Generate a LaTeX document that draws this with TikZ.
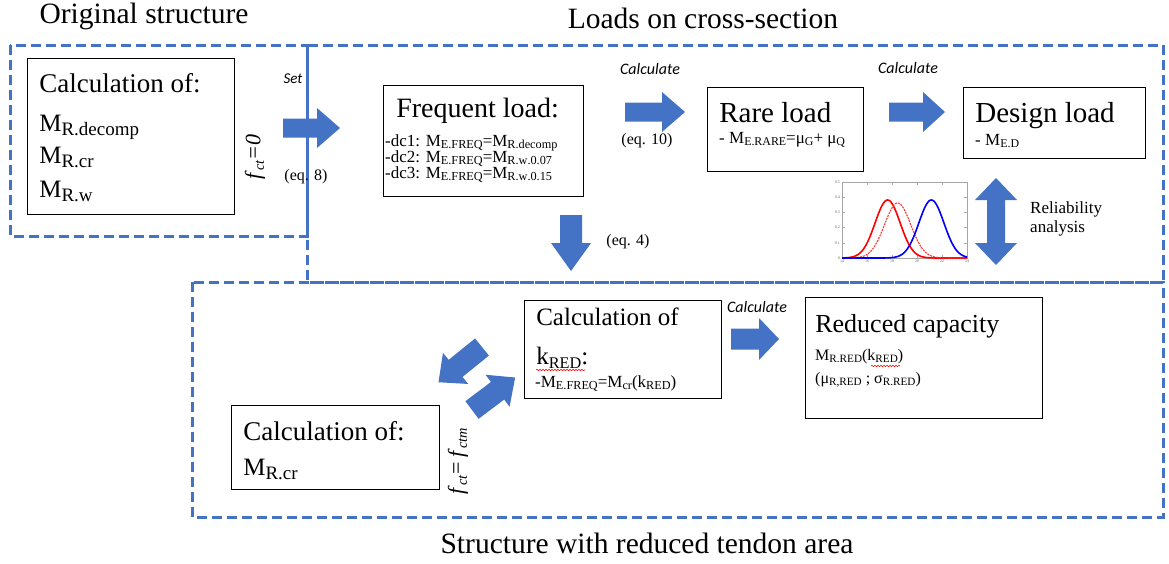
\documentclass[tikz,border=0pt]{standalone}
\usepackage{fontspec}
\setmainfont{Liberation Serif}[Kerning=Off]
\newfontfamily\tnr{Liberation Serif}[Kerning=Off]
\newfontfamily\tnrb{Liberation Serif}[Kerning=Off, Ligatures=NoCommon]
\newfontfamily\califont{Carlito}
\usetikzlibrary{decorations.pathmorphing}
\definecolor{dblue}{HTML}{4472C4}
\definecolor{ablue}{HTML}{4472C4}
\newcommand\lo[2][0.65]{\raisebox{-0.35ex}{\scalebox{#1}{#2}}}
% single block arrow: name, tail, angle, length, shaft half, head half, head length
\newcommand\barr[7]{\begin{scope}[shift={#2},rotate=#3]
\fill[ablue] (0,-#5) -- (#4-#7,-#5) -- (#4-#7,-#6) -- (#4,0) -- (#4-#7,#6) -- (#4-#7,#5) -- (0,#5) -- cycle;
\coordinate (#1) at (#4/2,0);
\end{scope}}
% double block arrow: name, centre, angle, length, shaft half, head half, head length
\newcommand\dbarr[7]{\begin{scope}[shift={#2},rotate=#3]
\fill[ablue] (-#4/2,0) -- (-#4/2+#7,#6) -- (-#4/2+#7,#5) -- (#4/2-#7,#5) -- (#4/2-#7,#6) -- (#4/2,0) -- (#4/2-#7,-#6) -- (#4/2-#7,-#5) -- (-#4/2+#7,-#5) -- (-#4/2+#7,-#6) -- cycle;
\coordinate (#1) at (0,0);
\end{scope}}
\begin{document}
\begin{tikzpicture}[x=1pt,y=-1pt,
  region/.style={draw=dblue, line width=3pt, dash pattern=on 10pt off 5pt},
  box/.style={draw=black, line width=1.3pt, anchor=north west, inner sep=0pt},
  sz/.style={font=\tnr\fontsize{16}{16}\selectfont, scale=#1/16, transform shape},
  szb/.style={font=\tnrb\fontsize{16}{16}\selectfont, scale=#1/16, transform shape},
  txt/.style={anchor=base west, inner sep=0pt, sz=#1},
  txtb/.style={anchor=base west, inner sep=0pt, szb=#1},
  ctxt/.style={anchor=base, inner sep=0pt, sz=#1},
  ctxtb/.style={anchor=base, inner sep=0pt, szb=#1},
  mtxt/.style={inner sep=0pt, sz=#1},
  calc/.style={font=\califont\itshape\fontsize{16}{16}\selectfont, inner sep=0pt},
  wavy/.style={draw=red, line width=0.6pt, decorate, decoration={snake, amplitude=0.7pt, segment length=3pt}}]
\useasboundingbox (0,0) rectangle (1169,563);
\fill[white] (0,0) rectangle (1169,563);

% regions
\draw[region] (10,45) rectangle (307,236);
\draw[region] (307,45) rectangle (1163,282);
\draw[region] (192,282) rectangle (1163,517);

% titles
\node[ctxtb=29.5] (tOrig) at (144,23) {Original structure};
\node[ctxt=29.5] (tLoads) at (703,28) {Loads on cross-section};
\node[ctxt=29.5] (tRed) at (647,553) {Structure with reduced tendon area};

% boxes
\node[box, minimum width=207pt, minimum height=156pt] (bCalcA) at (27,58) {};
\node[box, minimum width=200pt, minimum height=111pt] (bFreq) at (383,85) {};
\node[box, minimum width=156pt, minimum height=84pt] (bRare) at (707,87) {};
\node[box, minimum width=182pt, minimum height=71pt] (bDesign) at (963,87) {};
\node[box, minimum width=197pt, minimum height=98pt] (bK) at (524,300) {};
\node[box, minimum width=237pt, minimum height=121pt] (bRedCap) at (805,297) {};
\node[box, minimum width=208pt, minimum height=84pt] (bCalcB) at (231,405) {};

% texts in boxes
\node[txtb=27] (xA1) at (39,92) {Calculation of:};
\node[txt=25] (xA2) at (39,131) {M\lo[0.76]{R.decomp}};
\node[txt=25] (xA3) at (39,163) {M\lo[0.76]{R.cr}};
\node[txt=25] (xA4) at (39,197) {M\lo[0.76]{R.w}};

\node[txt=28] (xF1) at (396,117) {Frequent load:};
\node[txt=17] (xF2) at (385,146) {-dc1: M\lo[0.72]{E.FREQ}=M\lo[0.72]{R.decomp}};
\node[txt=17] (xF3) at (385,162) {-dc2: M\lo[0.72]{E.FREQ}=M\lo[0.72]{R.w.0.07}};
\node[txt=17] (xF4) at (385,178) {-dc3: M\lo[0.72]{E.FREQ}=M\lo[0.72]{R.w.0.15}};

\node[txtb=29] (xR1) at (719,122) {Rare load};
\node[txt=17] (xR2) at (719,143) {- M\lo[0.7]{E.RARE}=μ\lo[0.7]{G}+ μ\lo[0.7]{Q}};

\node[txtb=29] (xD1) at (975,122) {Design load};
\node[txt=17] (xD2) at (975,145) {- M\lo[0.7]{E.D}};

\node[txt=25] (xK1) at (536,325) {Calculation of};
\node[txt=25] (xK2) at (536,364) {k\lo{RED}:};
\node[txt=17] (xK3) at (535,387) {-M\lo[0.72]{E.FREQ}=M\lo[0.72]{cr}(k\lo[0.72]{RED})};
\draw[wavy] (536,370) -- (585,370);

\node[txt=26] (xC1) at (815,332) {Reduced capacity};
\node[txt=16] (xC2) at (815,360) {M\lo[0.7]{R.RED}(k\lo[0.7]{RED})};
\node[txt=16] (xC3) at (815,383) {(μ\lo[0.7]{R,RED} ; σ\lo[0.7]{R.RED})};
\draw[wavy] (871,366) -- (900,366);

\node[txtb=27] (xB1) at (243,440) {Calculation of:};
\node[txt=25] (xB2) at (243,475) {M\lo[0.76]{R.cr}};

% block arrows
\barr{aSet}{(283,128)}{0}{57}{9.5}{20}{23}
\barr{aFR}{(625,112)}{0}{60}{9.5}{20}{23}
\barr{aRD}{(889,112)}{0}{56}{9.5}{20}{22}
\barr{aDown}{(571,215)}{-90}{56}{11}{20}{28}
\barr{aDiag1}{(482,347)}{219}{56}{11}{20}{22}
\barr{aDiag2}{(472,410)}{37}{54}{11}{20}{22}
\barr{aRC}{(731,339)}{0}{48}{10.5}{21}{20}
\dbarr{aRel}{(996,221.5)}{90}{87}{9}{21}{22}

% labels on arrows
\node[calc, scale=15/16, transform shape] (lSet) at (293,79) {Set};
\node[mtxt=22, rotate=90] (lfct0) at (255,157) {\textit{f}\lo{\textit{ct}}\textit{=0}};
\node[mtxt=16] (lEq8) at (306,177) {(eq. 8)};
\node[calc] (lCalc1) at (650,69) {Calculate};
\node[calc] (lCalc2) at (908,68) {Calculate};
\node[calc] (lCalc3) at (757,307) {Calculate};
\node[mtxt=16] (lEq10) at (647,141) {(eq. 10)};
\node[mtxt=16] (lEq4) at (628,242) {(eq. 4)};
\node[mtxt=22, rotate=90] (lfctm) at (458,461) {\textit{f}\lo{\textit{ct}}= \textit{f}\lo{\textit{ctm}}};
\node[txtb=17] (lRel1) at (1030,213) {Reliability};
\node[txtb=17] (lRel2) at (1030,232) {analysis};

% small plot
\draw[gray!70, line width=0.5pt] (842,182) rectangle (967,258);
\foreach \t [count=\i from 0] in {14,16,18,20,22,24}{
  \draw[gray!70, line width=0.4pt] ({842+25*\i},258) -- ({842+25*\i},255);
  \draw[gray!70, line width=0.4pt] ({842+25*\i},182) -- ({842+25*\i},185);
  \node[font=\tnr\fontsize{16}{16}\selectfont, scale=0.25, transform shape, text=gray!80!black, inner sep=0pt, anchor=north] at ({842+25*\i},260) {\t};
}
\foreach \v [count=\i from 0] in {0,0.1,0.2,0.3,0.4,0.5}{
  \draw[gray!70, line width=0.4pt] (842,{258-15.2*\i}) -- (845,{258-15.2*\i});
  \draw[gray!70, line width=0.4pt] (967,{258-15.2*\i}) -- (964,{258-15.2*\i});
  \node[font=\tnr\fontsize{16}{16}\selectfont, scale=0.25, transform shape, text=gray!80!black, inner sep=0pt, anchor=east] at (840,{258-15.2*\i}) {\v};
}
\draw[red, line width=1.6pt] plot[domain=14:24, samples=120] ({842+12.5*(\x-14)}, {258-58*exp(0-((\x-17.65)^2)/2.0)});
\draw[red!80, line width=1.1pt, dash pattern=on 2pt off 1pt] plot[domain=14:24, samples=120] ({842+12.5*(\x-14)}, {258-55*exp(0-((\x-18.45)^2)/2.2)});
\draw[blue, line width=1.6pt] plot[domain=14:24, samples=120] ({842+12.5*(\x-14)}, {258-58*exp(0-((\x-21.15)^2)/2.0)});
\end{tikzpicture}
\end{document}
